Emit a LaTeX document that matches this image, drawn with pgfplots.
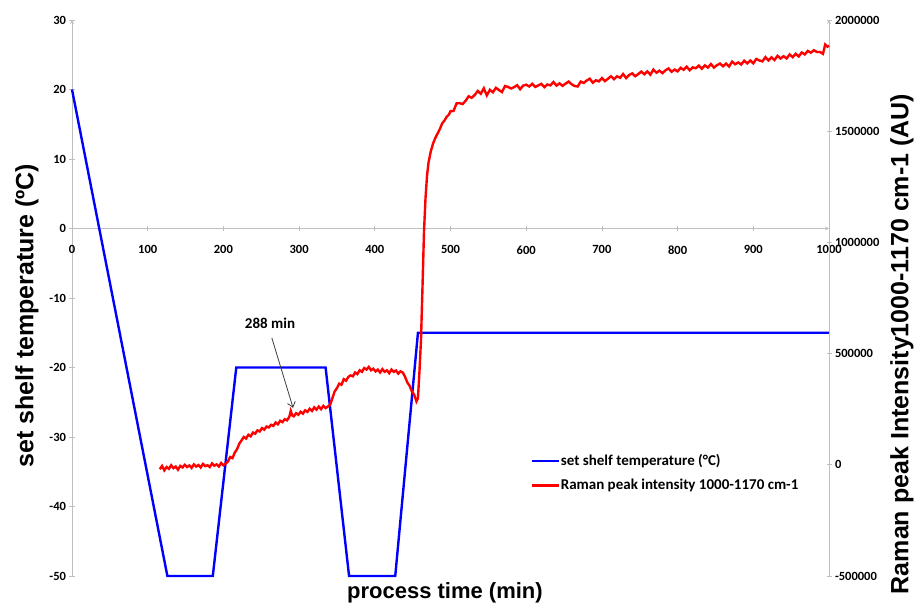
\documentclass[border=0pt]{standalone}
\usepackage{fontspec}
\setmainfont{Liberation Sans}
\newfontfamily\calibri{Carlito}
\usepackage{pgfplots}
\usepackage{pgfplotstable}
\pgfplotsset{compat=1.18}
\usetikzlibrary{arrows.meta}
\definecolor{axgray}{RGB}{190,190,190}
\definecolor{arrgray}{RGB}{60,60,60}

\pgfplotstableread{
t v
116 -20000
119 -5000
122 -25000
125 -10000
128 -18000
131 -2000
134 -15000
137 -8000
140 -22000
143 -5000
146 -12000
149 0
152 -10000
155 -3000
158 -14000
161 2000
164 -8000
167 -1000
170 -12000
173 4000
176 -6000
179 -2000
182 -10000
185 6000
188 -4000
191 2000
194 -8000
197 8000
200 -2000
203 5000
206 15000
209 35000
212 30000
215 55000
218 70000
221 95000
224 110000
227 125000
230 118000
233 135000
236 128000
239 145000
242 140000
245 155000
248 150000
251 165000
254 158000
257 172000
260 168000
263 180000
266 175000
269 190000
272 182000
275 198000
278 192000
281 205000
284 200000
287 215000
289 242000
291 222000
293 218000
296 232000
299 225000
302 238000
305 230000
308 245000
311 238000
314 252000
317 242000
320 258000
323 248000
326 262000
329 250000
332 265000
335 255000
338 262000
341 270000
344 300000
347 330000
350 345000
353 365000
356 360000
359 385000
362 378000
365 395000
368 402000
371 398000
374 415000
377 408000
380 425000
383 418000
386 435000
389 428000
392 440000
395 425000
398 432000
401 420000
404 428000
407 415000
410 430000
413 418000
416 425000
419 412000
422 428000
425 418000
428 424000
431 410000
434 420000
437 415000
440 395000
443 370000
446 355000
449 330000
452 315000
455 285000
457 300000
459 420000
461 560000
463 800000
465 1050000
467 1200000
469 1300000
471 1360000
474 1410000
477 1445000
480 1470000
483 1490000
486 1510000
489 1535000
492 1548000
495 1565000
498 1575000
500 1590000
504 1591000
508 1625000
512 1626000
516 1622000
520 1637000
524 1657000
528 1650000
532 1663000
536 1681000
540 1668000
544 1693000
548 1661000
552 1686000
556 1675000
560 1695000
564 1685000
568 1676000
572 1703000
576 1699000
580 1692000
584 1698000
588 1707000
592 1689000
596 1705000
600 1709000
604 1701000
608 1713000
612 1699000
616 1706000
620 1713000
624 1698000
628 1710000
632 1706000
636 1721000
640 1705000
644 1715000
648 1704000
652 1714000
656 1723000
660 1711000
664 1703000
668 1701000
672 1723000
676 1717000
680 1728000
684 1736000
688 1718000
692 1729000
696 1724000
700 1739000
704 1725000
708 1736000
712 1747000
716 1734000
720 1747000
724 1740000
728 1757000
732 1739000
736 1753000
740 1760000
744 1747000
748 1757000
752 1768000
756 1756000
760 1769000
764 1754000
768 1777000
772 1763000
776 1772000
780 1761000
784 1774000
788 1782000
792 1767000
796 1777000
800 1769000
804 1785000
808 1776000
812 1790000
816 1774000
820 1787000
824 1783000
828 1795000
832 1781000
836 1796000
840 1786000
844 1802000
848 1786000
852 1797000
856 1804000
860 1792000
864 1804000
868 1791000
872 1813000
876 1801000
880 1809000
884 1800000
888 1817000
892 1805000
896 1818000
900 1805000
904 1825000
908 1818000
912 1814000
916 1833000
920 1818000
924 1832000
928 1820000
932 1839000
936 1827000
940 1837000
944 1827000
948 1845000
952 1833000
956 1848000
960 1836000
964 1854000
968 1845000
972 1861000
976 1853000
980 1864000
984 1856000
988 1856000
992 1848000
995 1890000
998 1880000
1000 1885000
}\raman

\begin{document}
\begin{tikzpicture}
\useasboundingbox (0,0) rectangle (918pt,605pt);
\pgfplotsset{common/.style={
  at={(72pt,29pt)}, anchor=south west, scale only axis,
  width=757pt, height=556pt, xmin=0, xmax=1000,
  axis line style={axgray, line width=0.8pt, -},
  tick style={axgray, line width=0.8pt},
  major tick length=5pt, tick align=outside,
  ticklabel style={font=\calibri\bfseries\fontsize{12.5}{14}\selectfont},
  /pgf/number format/assume math mode=true,
  /pgf/number format/1000 sep={},
  scaled y ticks=false,
  clip=false}}

\begin{axis}[common,
  axis x line=middle, axis y line=left,
  ymin=-50, ymax=30, ytick={-50,-40,...,30},
  xtick={100,200,...,1000},
  extra x ticks={0}, extra x tick labels={0},
  xticklabel style={yshift=-11pt},
  xlabel={process time (min)},
  ylabel={set shelf temperature (ºC)},
  xlabel style={at={(axis description cs:0.4927,-0.0306)}, anchor=center,
    font=\bfseries\fontsize{22}{26}\selectfont},
  ylabel style={at={(axis description cs:-0.0594,0.4685)}, anchor=center,
    font=\bfseries\fontsize{25}{30}\selectfont}]
\addplot[blue, line width=2.4pt] coordinates {
 (0,20) (126,-50) (186,-50) (217,-20) (335,-20) (366,-50) (427,-50) (457,-15) (1000,-15)};
\draw[arrgray, line width=0.8pt, -{Straight Barb[length=5pt,width=8pt]}]
  (axis cs:264,-15.75) -- (axis cs:292,-25.8);
\node[font=\calibri\bfseries\fontsize{15}{18}\selectfont] at (axis cs:261.6,-13.7) {288 min};
\end{axis}

\begin{axis}[common,
  axis x line=none, axis y line=right,
  ymin=-500000, ymax=2000000,
  ytick={-500000,0,500000,1000000,1500000,2000000},
  yticklabels={-500000,0,500000,1000000,1500000,2000000},
  ylabel={Raman peak Intensity1000-1170 cm-1 (AU)},
  ylabel style={at={(axis description cs:1.0964,0.4173)}, anchor=center,
    font=\bfseries\fontsize{25}{30}\selectfont},
  legend style={at={(axis description cs:0.604,0.222)}, anchor=north west,
    draw=none, fill=none, row sep=10pt, inner sep=1pt,
    nodes={inner sep=1pt},
    font=\calibri\bfseries\fontsize{15}{18}\selectfont},
  legend cell align=left,
  legend image code/.code={\draw[#1] (0pt,0pt) -- (27pt,0pt);}]
\addlegendimage{draw=blue, line width=2pt}
\addlegendentry{set shelf temperature (°C)}
\addplot[red, line width=2.4pt] table[x=t, y=v] {\raman};
\addlegendentry{Raman peak intensity 1000-1170 cm-1}
\end{axis}
\end{tikzpicture}
\end{document}
